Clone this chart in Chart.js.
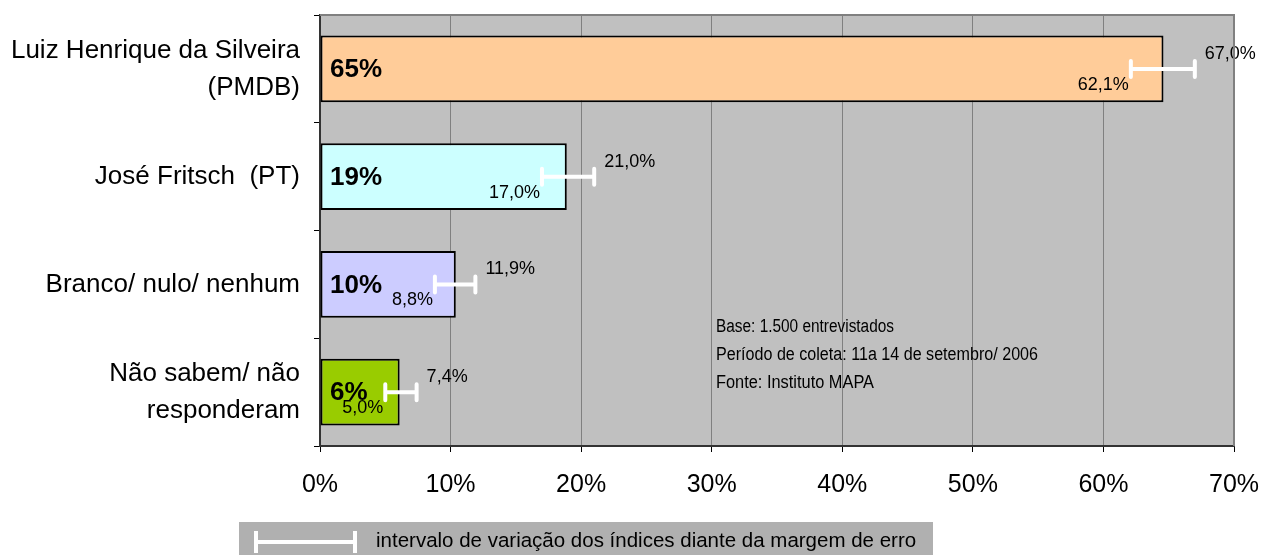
<!DOCTYPE html>
<html>
<head>
<meta charset="utf-8">
<script src="https://cdn.jsdelivr.net/npm/chart.js@4/dist/chart.umd.min.js"></script>
<style>
  html, body { margin: 0; padding: 0; background: #fff; }
  #wrap { width: 1262px; height: 555px; }
</style>
</head>
<body>
<div id="wrap"><canvas id="chart" width="1262" height="555"></canvas></div>
<script>
const categories = [
  ['Luiz Henrique da Silveira', '(PMDB)'],
  'José Fritsch  (PT)',
  'Branco/ nulo/ nenhum',
  ['Não sabem/ não', 'responderam']
]
const values = [64.6, 18.9, 10.4, 6.1]
const valueLabels = ['65%', '19%', '10%', '6%']
const lowValues = [62.1, 17.0, 8.8, 5.0]
const highValues = [67.0, 21.0, 11.9, 7.4]
const barColors = ['#FFCC99', '#CCFFFF', '#CCCCFF', '#99CC00']
const notes = ['Base: 1.500 entrevistados', 'Período de coleta: 11a 14 de setembro/ 2006', 'Fonte: Instituto MAPA']
const legendText = 'intervalo de variação dos índices diante da margem de erro'

const FONT = '"Liberation Sans", Arial, sans-serif'
const fmt = (v) => v.toFixed(1).replace('.', ',') + '%'

// gray plot background + top/right frame
const plotBg = {
  id: 'plotBg',
  beforeDraw(chart) {
    const { ctx, chartArea: a } = chart
    ctx.save()
    ctx.fillStyle = '#C0C0C0'
    ctx.fillRect(a.left, a.top, a.right - a.left, a.bottom - a.top)
    ctx.restore()
  },
  afterDraw(chart) {
    const { ctx, chartArea: a } = chart
    ctx.save()
    ctx.strokeStyle = '#808080'
    ctx.lineWidth = 2
    ctx.beginPath()
    ctx.moveTo(a.left, a.top)
    ctx.lineTo(a.right, a.top)
    ctx.lineTo(a.right, a.bottom)
    ctx.stroke()
    ctx.restore()
  }
}

function drawErrorBar(ctx, x1, x2, y, cap) {
  ctx.beginPath()
  ctx.moveTo(x1, y)
  ctx.lineTo(x2, y)
  ctx.moveTo(x1, y - cap)
  ctx.lineTo(x1, y + cap)
  ctx.moveTo(x2, y - cap)
  ctx.lineTo(x2, y + cap)
  ctx.stroke()
}

const extras = {
  id: 'extras',
  afterDatasetsDraw(chart) {
    const { ctx, scales } = chart
    const x = scales.x, y = scales.y
    ctx.save()
    values.forEach((v, i) => {
      const cy = y.getPixelForValue(i)
      const xl = x.getPixelForValue(lowValues[i])
      const xh = x.getPixelForValue(highValues[i])

      // error bar
      ctx.strokeStyle = '#fff'
      ctx.lineWidth = 4
      ctx.lineCap = 'round'
      drawErrorBar(ctx, xl, xh, cy, 8)

      // bold value label
      ctx.fillStyle = '#000'
      ctx.font = 'bold 26px ' + FONT
      ctx.textAlign = 'left'
      ctx.textBaseline = 'middle'
      ctx.fillText(valueLabels[i], x.left + 10, cy + 1)

      // interval labels
      ctx.font = '18px ' + FONT
      ctx.textAlign = 'right'
      ctx.fillText(fmt(lowValues[i]), xl - 2, cy + 16)
      ctx.textAlign = 'left'
      ctx.fillText(fmt(highValues[i]), xh + 10, cy - 15)
    })

    // notes box
    ctx.font = '18px ' + FONT
    ctx.textAlign = 'left'
    ctx.textBaseline = 'middle'
    const noteW = [178, 322, 158]
    notes.forEach((t, i) => ctx.fillText(t, 716, 327 + i * 28, noteW[i]))

    // legend
    ctx.fillStyle = '#B0B0B0'
    ctx.fillRect(239, 522, 694, 40)
    ctx.strokeStyle = '#fff'
    ctx.lineWidth = 4
    ctx.lineCap = 'butt'
    drawErrorBar(ctx, 256, 355, 542, 11)
    ctx.fillStyle = '#000'
    ctx.font = '20.5px ' + FONT
    ctx.fillText(legendText, 376, 541, 550)
    ctx.restore()
  }
}

new Chart(document.getElementById('chart'), {
  type: 'bar',
  data: {
    labels: categories,
    datasets: [{
      data: values,
      backgroundColor: barColors,
      borderColor: '#000',
      borderWidth: 2,
      borderSkipped: false,
      categoryPercentage: 1,
      barPercentage: 0.62
    }]
  },
  plugins: [plotBg, extras],
  options: {
    indexAxis: 'y',
    responsive: false,
    animation: false,
    layout: { padding: { top: 15, right: 28, left: 0, bottom: 0 } },
    plugins: {
      legend: { display: false },
      tooltip: { enabled: false }
    },
    scales: {
      x: {
        min: 0,
        max: 70,
        afterFit(scale) {
          scale.height = 109
          scale.paddingLeft = 0
          scale.paddingRight = 0
        },
        ticks: {
          stepSize: 10,
          padding: 18,
          color: '#000',
          font: { family: FONT, size: 25 },
          callback: (v) => v + '%'
        },
        grid: { color: '#808080', lineWidth: 1, tickLength: 6, tickColor: '#000' },
        border: { color: '#333', width: 2 }
      },
      y: {
        afterFit(scale) {
          scale.width = 320
          scale.paddingTop = 0
          scale.paddingBottom = 0
        },
        ticks: {
          padding: 14,
          color: '#000',
          font: { family: FONT, size: 26, lineHeight: 1.42 }
        },
        grid: { offset: true, drawOnChartArea: false, tickLength: 6, tickColor: '#000' },
        border: { color: '#333', width: 2 }
      }
    }
  }
})
</script>
</body>
</html>
